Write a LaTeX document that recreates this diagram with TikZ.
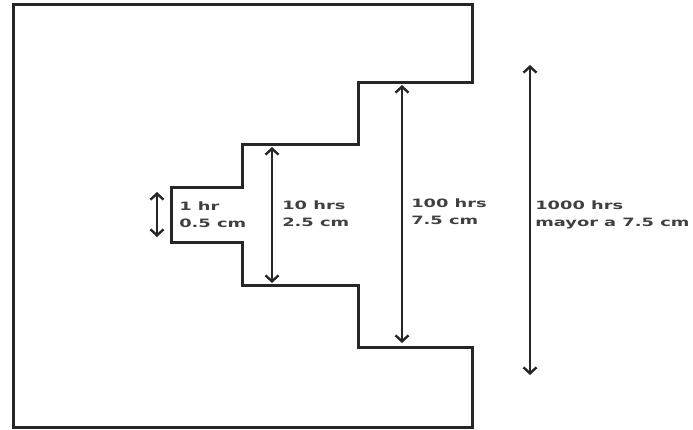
\documentclass[tikz,border=0pt]{standalone}
\usepackage{fontspec}
\setmainfont{DejaVu Sans}
\usetikzlibrary{arrows.meta, positioning}

\begin{document}
\begin{tikzpicture}[
		x=1pt, y=1pt,
		wall/.style={draw=black!85, line width=3pt, line join=miter},
		dim/.style={draw=black!85, line width=2.4pt, {Straight Barb[length=6pt, width=13pt]}-{Straight Barb[length=6pt, width=13pt]}},
		lbl/.style={font=\bfseries\fontsize{11.5}{17}\selectfont, text=black!75, align=left,
			anchor=base west, inner sep=0pt, xscale=1.55, transform shape}
	]
		\useasboundingbox (0, 0) rectangle (693, 429);

		% Step corners of the outline
		\coordinate (tl) at (13, 424);
		\coordinate (tr) at (472, 424);
		\coordinate (s1t) at (472, 346);
		\coordinate (s2t) at (358, 346);
		\coordinate (s2u) at (358, 284);
		\coordinate (s3t) at (242, 284);
		\coordinate (s3u) at (242, 241);
		\coordinate (s4t) at (171, 241);
		\coordinate (s4b) at (171, 187);
		\coordinate (s3d) at (242, 187);
		\coordinate (s3b) at (242, 144);
		\coordinate (s2d) at (358, 144);
		\coordinate (s2b) at (358, 82);
		\coordinate (s1b) at (472, 82);
		\coordinate (br) at (472, 2);
		\coordinate (bl) at (13, 2);

		% Outline
		\draw[wall] (tl) -- (tr) -- (s1t) -- (s2t) -- (s2u) -- (s3t) -- (s3u) -- (s4t)
			-- (s4b) -- (s3d) -- (s3b) -- (s2d) -- (s2b) -- (s1b) -- (br) -- (bl) -- cycle;

		% Dimension arrows
		\coordinate (d1t) at (157, 237);
		\coordinate (d1b) at (157, 192);
		\coordinate (d2t) at (272, 282);
		\coordinate (d2b) at (272, 146);
		\coordinate (d3t) at (402, 344);
		\coordinate (d3b) at (402, 86);
		\coordinate (d4t) at (530, 364);
		\coordinate (d4b) at (530, 54);
		\draw[dim] (d1t) -- (d1b);
		\draw[dim] (d2t) -- (d2b);
		\draw[dim] (d3t) -- (d3b);
		\draw[dim] (d4t) -- (d4b);

		% Labels (base = last line)
		\node[lbl] (t1) at (179, 201.5) {1 hr\\0.5 cm};
		\node[lbl] (t2) at (282, 203) {10 hrs\\2.5 cm};
		\node[lbl] (t3) at (411, 204.5) {100 hrs\\7.5 cm};
		\node[lbl] (t4) at (535, 203) {1000 hrs\\mayor a 7.5 cm};
	\end{tikzpicture}
\end{document}
